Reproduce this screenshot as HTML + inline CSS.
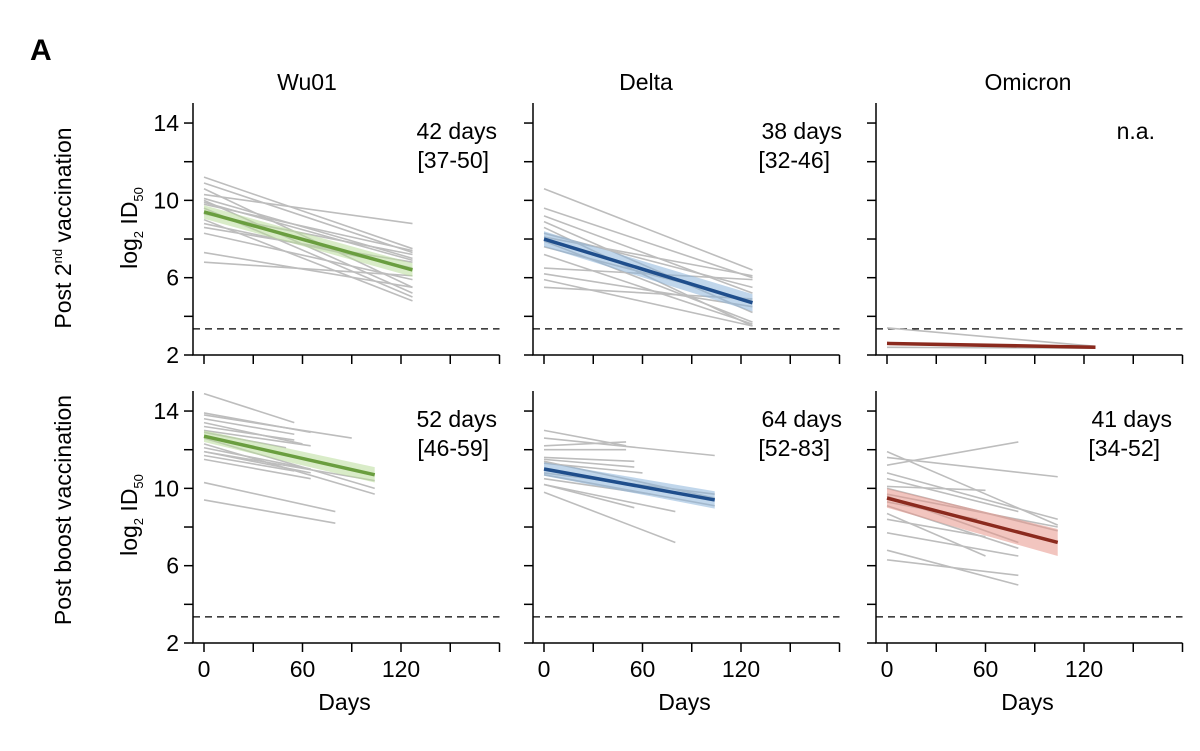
<!DOCTYPE html>
<html><head><meta charset="utf-8"><style>
html,body{margin:0;padding:0;background:#fff}
svg{display:block;font-family:"Liberation Sans",Arial,sans-serif}
</style></head><body>
<svg id="fig" width="1200" height="751" viewBox="0 0 1200 751" xmlns="http://www.w3.org/2000/svg">
<text x="30" y="60" font-size="30" font-weight="bold">A</text>
<text x="307" y="90" font-size="23" text-anchor="middle">Wu01</text>
<text x="646" y="90" font-size="23" text-anchor="middle">Delta</text>
<text x="1028" y="90" font-size="23" text-anchor="middle">Omicron</text>
<text transform="translate(71,228) rotate(-90)" font-size="23" text-anchor="middle">Post 2<tspan font-size="13" dy="-9">nd</tspan><tspan dy="9"> vaccination</tspan></text>
<text transform="translate(71,510) rotate(-90)" font-size="23" text-anchor="middle">Post boost vaccination</text>
<text transform="translate(137,228) rotate(-90)" font-size="23" text-anchor="middle">log<tspan font-size="13" dy="6">2</tspan><tspan dy="-6"> ID</tspan><tspan font-size="13" dy="6">50</tspan></text>
<text transform="translate(137,515) rotate(-90)" font-size="23" text-anchor="middle">log<tspan font-size="13" dy="6">2</tspan><tspan dy="-6"> ID</tspan><tspan font-size="13" dy="6">50</tspan></text>
<g id="plots"></g>
</svg>
<script>
const panelNames = ["wu01-2nd","delta-2nd","omicron-2nd","wu01-boost","delta-boost","omicron-boost"];
const fitStart = [9.4, 8.0, 2.6, 12.7, 11.0, 9.5];
const fitEnd = [6.4, 4.7, 2.4, 10.7, 9.4, 7.2];
const fitDay = [127, 127, 127, 104, 104, 104];
const bandStart = [0.35, 0.4, 0, 0.3, 0.35, 0.5];
const bandEnd = [0.35, 0.45, 0, 0.4, 0.45, 0.7];
const halfLife = ["42 days","38 days","n.a.","52 days","64 days","41 days"];
const halfCI = ["[37-50]","[32-46]","","[46-59]","[52-83]","[34-52]"];
const colors = ["#6a9e3f","#1f4e8c","#8b2a1e","#6a9e3f","#1f4e8c","#8b2a1e"];
const bandColors = ["#b9dc9a","#8db5da","#e8958a","#b9dc9a","#8db5da","#e8958a"];
const yTicks = [2,6,10,14];
const xTicks = [0,60,120];
const lod = 3.35;
const grayLines = [
 [[127,11.2,7.5],[127,10.9,7.3],[127,10.6,5.5],[127,10.3,8.8],[127,10.1,7.0],[127,10.0,5.2],[127,9.9,6.9],[127,9.6,5.0],[127,9.3,7.2],[127,9.0,4.8],[127,8.8,6.5],[127,8.6,6.8],[127,8.3,5.9],[127,7.3,5.5],[127,6.8,6.1],[127,9.8,7.4]],
 [[127,10.6,6.4],[127,9.6,6.0],[127,9.2,5.2],[127,8.9,4.2],[127,8.6,3.5],[127,8.3,5.5],[127,7.9,3.7],[127,7.6,4.8],[127,7.2,3.6],[127,6.5,5.9],[127,6.2,4.5],[127,5.9,3.5],[127,5.5,4.9],[127,8.1,6.1]],
 [[127,3.4,2.45],[127,2.4,2.35]],
 [[55,14.9,13.4],[65,13.9,12.9],[90,13.8,12.6],[55,13.6,12.8],[60,13.4,12.3],[55,13.2,12.5],[65,13.0,12.2],[50,12.9,12.1],[104,12.6,10.0],[104,12.3,9.7],[65,12.1,11.0],[65,11.9,10.8],[55,11.7,10.9],[65,11.5,10.5],[104,11.9,10.4],[80,10.3,8.8],[80,9.4,8.2]],
 [[50,13.0,12.2],[50,12.2,12.4],[50,12.0,12.0],[55,11.5,11.1],[104,12.6,11.7],[55,11.6,11.4],[60,11.3,10.8],[104,11.4,9.5],[104,10.7,9.1],[65,10.5,9.7],[80,10.2,8.8],[80,9.8,7.2],[104,10.8,9.7],[55,10.2,9.0]],
 [[104,11.9,8.1],[80,11.2,12.4],[104,11.6,10.6],[104,10.8,8.4],[80,10.5,8.8],[60,10.1,9.9],[104,10.0,7.8],[80,9.6,7.2],[55,9.3,8.4],[80,9.1,6.9],[60,8.7,6.5],[60,8.4,7.5],[80,7.7,6.5],[80,6.8,5.0],[80,6.3,5.5],[104,9.7,8.0]]
];
const axisLeft = [193, 533, 876];
const yBottom = [355, 643];
const labelOff = [304, 309, 279, 304, 309, 296];
const ciOff = [296, 297, 0, 296, 297, 284];
const pxPerUnit = 19.33, pxPerDay = 98.5/60;
const NS = "http://www.w3.org/2000/svg";
const root = document.getElementById("plots");
function mk(tag, attrs, parent){const e=document.createElementNS(NS,tag);for(const k in attrs)e.setAttribute(k,attrs[k]);(parent||root).appendChild(e);return e;}
panelNames.forEach((name,i)=>{
  const col=i%3,row=Math.floor(i/3);
  const L=axisLeft[col], B=yBottom[row];
  const X=d=>L+11+d*pxPerDay, Y=v=>B-(v-2)*pxPerUnit;
  const g=mk("g",{});
  
  
  const ax=mk("path",{d:`M${L} ${B-252}V${B}H${X(180)}`,fill:"none",stroke:"#000","stroke-width":1.5},g);
  
  
  for(let v=2;v<=14;v+=2){const t=mk("line",{x1:L-9,x2:L,y1:Y(v),y2:Y(v),stroke:"#000","stroke-width":1.5},g);}
  for(let d=0;d<=180;d+=30){const t=mk("line",{x1:X(d),x2:X(d),y1:B,y2:B+9,stroke:"#000","stroke-width":1.5},g);}
  if(col===0) yTicks.forEach(v=>{const t=mk("text",{x:L-14,y:Y(v)+8,"font-size":23,"text-anchor":"end"},g);t.textContent=v;});
  if(row===1){
    xTicks.forEach(d=>{const t=mk("text",{x:X(d),y:B+34,"font-size":23,"text-anchor":"middle"},g);t.textContent=d;});
    const xt=mk("text",{x:X(60)+42,y:B+67,"font-size":23,"text-anchor":"middle"},g);xt.textContent="Days";
    
  }
  const dl=mk("line",{x1:L,x2:X(180),y1:Y(lod),y2:Y(lod),stroke:"#000","stroke-width":1.3,"stroke-dasharray":"7,5"},g);
  
  grayLines[i].forEach(s=>{const l=mk("line",{x1:X(0),y1:Y(s[1]),x2:X(s[0]),y2:Y(s[2]),stroke:"#bdbdbd","stroke-width":1.6},g);});
  if(bandStart[i]>0){
    const d=fitDay[i];
    const p=mk("polygon",{points:`${X(0)},${Y(fitStart[i]+bandStart[i])} ${X(d)},${Y(fitEnd[i]+bandEnd[i])} ${X(d)},${Y(fitEnd[i]-bandEnd[i])} ${X(0)},${Y(fitStart[i]-bandStart[i])}`,fill:bandColors[i],"fill-opacity":0.55},g);
    
  }
  const fl=mk("line",{x1:X(0),y1:Y(fitStart[i]),x2:X(fitDay[i]),y2:Y(fitEnd[i]),stroke:colors[i],"stroke-width":3.5},g);
  
  const t1=mk("text",{x:L+labelOff[i],y:B-216,"font-size":23,"text-anchor":"end"},g);t1.textContent=halfLife[i];
  
  if(halfCI[i]){const t2=mk("text",{x:L+ciOff[i],y:B-187,"font-size":23,"text-anchor":"end"},g);t2.textContent=halfCI[i];
  }
});
</script>
</body></html>
